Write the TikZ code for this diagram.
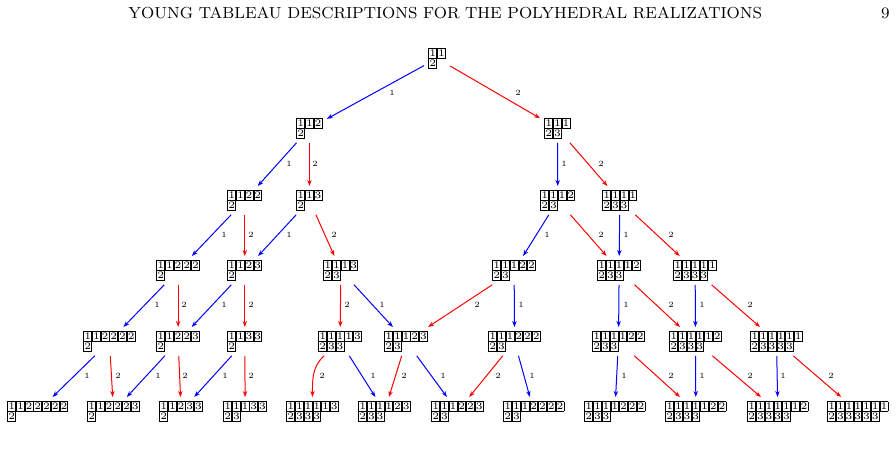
\documentclass[tikz,border=0pt]{standalone}
\usetikzlibrary{arrows.meta}
\setlength{\fboxsep}{0pt}
\setlength{\fboxrule}{0.4pt}
\newcommand\yc[1]{\fbox{\makebox[3.55pt]{\rule[-0.5pt]{0pt}{4.2pt}#1}}}
\def\yrowA#1{\ifx\relax#1\else\yc{#1}\expandafter\yrowA\fi}
\def\yrow#1{\yrowA#1\relax}
\newcommand\yt[2]{\vbox{\offinterlineskip\hbox{\yrow{#1}}\hbox{\yrow{#2}}}}
\tikzset{
  tabn/.style={inner sep=2pt, anchor=north west, xshift=-2pt, yshift=2pt, font=\fontsize{5}{6}\selectfont},
  lbl/.style={inner sep=0pt, font=\fontsize{4}{5}\selectfont},
  e1/.style={blue, line width=0.5pt, -{Stealth[length=3pt,width=2.2pt]}},
  e2/.style={red, line width=0.5pt, -{Stealth[length=3pt,width=2.2pt]}},
  hdr/.style={inner sep=0pt, font=\fontsize{8}{10}\selectfont}
}
\newcommand\edg[6]{\draw[#3] (#1) -- (#2); \node[lbl] (#1#2) at (#5,#6) {#4};}
\begin{document}
\begin{tikzpicture}[x=0.5pt,y=-0.5pt]
\useasboundingbox (0,0) rectangle (896,462);
\node[hdr, anchor=base west] (head) at (128,18) {YOUNG TABLEAU DESCRIPTIONS FOR THE POLYHEDRAL REALIZATIONS};
\node[hdr, anchor=base east] (page) at (890,18) {9};
% level 0
\node[tabn] (n0) at (428,48) {\yt{11}{2}};
% level 1
\node[tabn] (a1) at (296,118) {\yt{112}{2}};
\node[tabn] (b1) at (544,118) {\yt{111}{23}};
% level 2
\node[tabn] (a2) at (227,190) {\yt{1122}{2}};
\node[tabn] (b2) at (296,190) {\yt{113}{2}};
\node[tabn] (c2) at (540,190) {\yt{1112}{23}};
\node[tabn] (d2) at (602,190) {\yt{1111}{233}};
% level 3
\node[tabn] (a3) at (156,260) {\yt{11222}{2}};
\node[tabn] (b3) at (227,260) {\yt{1123}{2}};
\node[tabn] (c3) at (323,260) {\yt{1113}{23}};
\node[tabn] (d3) at (492,260) {\yt{11122}{23}};
\node[tabn] (e3) at (597,260) {\yt{11112}{233}};
\node[tabn] (f3) at (673,260) {\yt{11111}{2333}};
% level 4
\node[tabn] (a4) at (83,331) {\yt{112222}{2}};
\node[tabn] (b4) at (156,331) {\yt{11223}{2}};
\node[tabn] (c4) at (227,331) {\yt{1133}{2}};
\node[tabn] (d4) at (318,331) {\yt{11113}{233}};
\node[tabn] (e4) at (384,331) {\yt{11123}{23}};
\node[tabn] (f4) at (488,331) {\yt{111222}{23}};
\node[tabn] (g4) at (592,331) {\yt{111122}{233}};
\node[tabn] (h4) at (669,331) {\yt{111112}{2333}};
\node[tabn] (i4) at (750,331) {\yt{111111}{23333}};
% level 5
\node[tabn] (a5) at (7,401) {\yt{1122222}{2}};
\node[tabn] (b5) at (87,401) {\yt{112223}{2}};
\node[tabn] (c5) at (159,401) {\yt{11233}{2}};
\node[tabn] (d5) at (223,401) {\yt{11133}{23}};
\node[tabn] (e5) at (286,401) {\yt{111113}{2333}};
\node[tabn] (f5) at (358,401) {\yt{111123}{233}};
\node[tabn] (g5) at (431,401) {\yt{111223}{23}};
\node[tabn] (h5) at (503,401) {\yt{1112222}{23}};
\node[tabn] (i5) at (584,401) {\yt{1111222}{233}};
\node[tabn] (j5) at (665,401) {\yt{1111122}{2333}};
\node[tabn] (k5) at (747,401) {\yt{1111112}{23333}};
\node[tabn] (l5) at (827,401) {\yt{1111111}{233333}};
% edges L0-L1
\edg{n0}{a1}{e1}{1}{392}{93}
\edg{n0}{b1}{e2}{2}{518}{93}
% L1-L2
\edg{a1}{a2}{e1}{1}{289}{164}
\edg{a1}{b2}{e2}{2}{315}{164}
\edg{b1}{c2}{e1}{1}{564}{164}
\edg{b1}{d2}{e2}{2}{601}{164}
% L2-L3
\edg{a2}{a3}{e1}{1}{224}{235}
\edg{a2}{b3}{e2}{2}{251}{235}
\edg{b2}{b3}{e1}{1}{289}{235}
\edg{b2}{c3}{e2}{2}{334}{235}
\edg{c2}{d3}{e1}{1}{547}{235}
\edg{c2}{e3}{e2}{2}{601}{235}
\edg{d2}{e3}{e1}{1}{626}{235}
\edg{d2}{f3}{e2}{2}{671}{235}
% L3-L4
\edg{a3}{a4}{e1}{1}{157}{305}
\edg{a3}{b4}{e2}{2}{184}{305}
\edg{b3}{b4}{e1}{1}{224}{305}
\edg{b3}{c4}{e2}{2}{251}{305}
\edg{c3}{d4}{e2}{2}{347}{305}
\edg{c3}{e4}{e1}{1}{382}{305}
\edg{d3}{e4}{e2}{2}{477}{305}
\edg{d3}{f4}{e1}{1}{521}{305}
\edg{e3}{g4}{e1}{1}{626}{305}
\edg{e3}{h4}{e2}{2}{671}{305}
\edg{f3}{h4}{e1}{1}{702}{305}
\edg{f3}{i4}{e2}{2}{750}{305}
% L4-L5
\edg{a4}{a5}{e1}{1}{87}{376}
\edg{a4}{b5}{e2}{2}{118}{376}
\edg{b4}{b5}{e1}{1}{158}{376}
\edg{b4}{c5}{e2}{2}{185}{376}
\edg{c4}{c5}{e1}{1}{225}{376}
\edg{c4}{d5}{e2}{2}{251}{376}
\draw[e2] (d4) to[out=-138,in=90] (e5);
\node[lbl] (d4e5) at (322,376) {2};
\edg{d4}{f5}{e1}{1}{373}{376}
\edg{e4}{f5}{e2}{2}{404}{376}
\edg{e4}{g5}{e1}{1}{443}{376}
\edg{f4}{g5}{e2}{2}{498}{376}
\edg{f4}{h5}{e1}{1}{532}{376}
\edg{g4}{i5}{e1}{1}{624}{376}
\edg{g4}{j5}{e2}{2}{671}{376}
\edg{h4}{j5}{e1}{1}{702}{376}
\edg{h4}{k5}{e2}{2}{750}{376}
\edg{i4}{k5}{e1}{1}{783}{376}
\edg{i4}{l5}{e2}{2}{831}{376}
\end{tikzpicture}
\end{document}
